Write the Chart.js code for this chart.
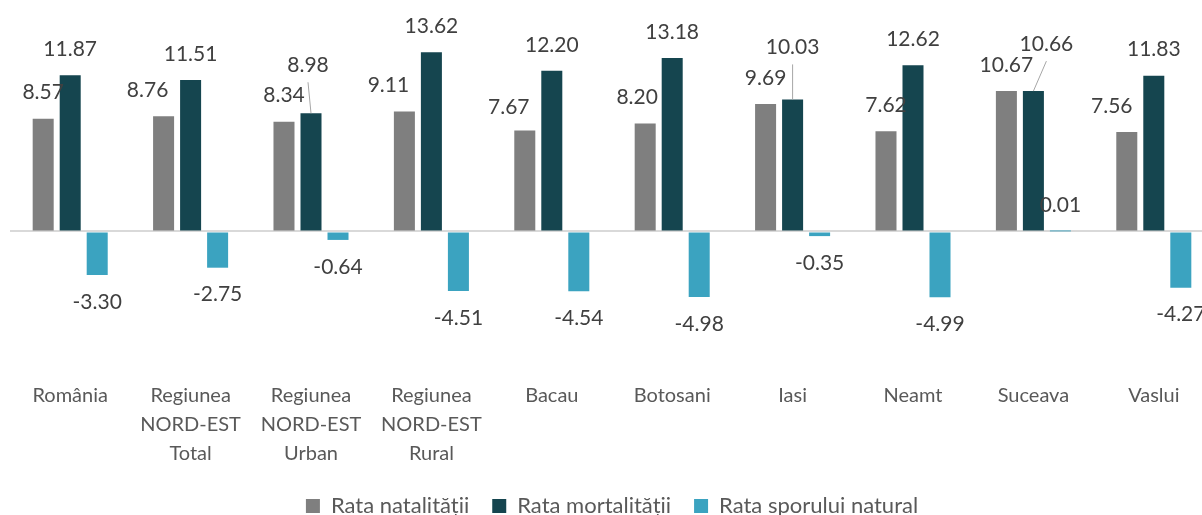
<!DOCTYPE html>
<html lang="ro">
<head>
<meta charset="utf-8">
<title>Rata natalității, mortalității și sporului natural</title>
<script src="https://cdn.jsdelivr.net/npm/chart.js@4.4.1/dist/chart.umd.min.js"></script>
<style>
  html, body {
    margin: 0;
    padding: 0;
    width: 1202px;
    height: 515px;
    overflow: hidden;
    background: #ffffff;
  }
  /* the original chart is cropped on the right and bottom, so the canvas is a bit bigger than the window */
  #chart-wrap {
    position: absolute;
    left: 0;
    top: 0;
    width: 1236px;
    height: 527px;
  }
</style>
</head>
<body>
<div id="chart-wrap"><canvas id="rates-chart"></canvas></div>

<script>
// ── Data ──────────────────────────────────────────────
const categories = [
  ['România'],
  ['Regiunea', 'NORD-EST', 'Total'],
  ['Regiunea', 'NORD-EST', 'Urban'],
  ['Regiunea', 'NORD-EST', 'Rural'],
  ['Bacau'],
  ['Botosani'],
  ['Iasi'],
  ['Neamt'],
  ['Suceava'],
  ['Vaslui'],
];

const seriesNames = ['Rata natalității', 'Rata mortalității', 'Rata sporului natural'];

const rataNatalitatii  = [8.57, 8.76, 8.34, 9.11, 7.67, 8.20, 9.69, 7.62, 10.67, 7.56];
const rataMortalitatii = [11.87, 11.51, 8.98, 13.62, 12.20, 13.18, 10.03, 12.62, 10.66, 11.83];
const rataSporNatural  = [-3.30, -2.75, -0.64, -4.51, -4.54, -4.98, -0.35, -4.99, 0.01, -4.27];

// ── Styling ───────────────────────────────────────────
const COLORS = ['#7f7f7f', '#15454f', '#3ba3c0'];
const FONT = 'Lato, "Open Sans", sans-serif';
const TEXT_DARK = '#404040';
const TEXT_MID = '#595959';

// Manually moved data labels (as in the source workbook): "dataset-index": [dx, dy, leaderLine]
const labelNudges = {
  '0-1': [-16, 0, false],
  '0-3': [-16, 0, false],
  '0-4': [-16, 3, false],
  '0-5': [-8, 0, false],
  '0-9': [-15, 0, false],
  '1-2': [-3, -22, true],
  '1-6': [0, -26, true],
  '1-8': [13, -21, true],
};

/**
 * Draws the value labels above positive bars and below negative bars.
 */
const valueLabels = {
  id: 'valueLabels',
  afterDraw(chart) {
    const ctx = chart.ctx;
    ctx.save();
    ctx.font = `21px ${FONT}`;
    ctx.textAlign = 'center';
    ctx.textBaseline = 'middle';

    chart.data.datasets.forEach((ds, di) => {
      const meta = chart.getDatasetMeta(di);
      meta.data.forEach((bar, i) => {
        const value = ds.data[i];
        let x = bar.x;
        let y = value >= 0 ? bar.y - 26 : bar.y + 27;
        const nudge = labelNudges[`${di}-${i}`];
        if (nudge) {
          x += nudge[0];
          y += nudge[1];
          if (nudge[2]) {
            // leader line from the label down to the top of the bar
            ctx.strokeStyle = '#a6a6a6';
            ctx.lineWidth = 1;
            ctx.beginPath();
            ctx.moveTo(x, y + 17);
            ctx.lineTo(bar.x, bar.y);
            ctx.stroke();
          }
        }
        ctx.fillStyle = TEXT_DARK;
        ctx.fillText(value.toFixed(2), x, y);
      });
    });
    ctx.restore();
  },
};

const seriesValues = [rataNatalitatii, rataMortalitatii, rataSporNatural];

new Chart(document.getElementById('rates-chart'), {
  type: 'bar',
  data: {
    labels: categories,
    datasets: seriesNames.map((name, i) => ({
      label: name,
      data: seriesValues[i],
      backgroundColor: COLORS[i],
      borderWidth: 0,
      categoryPercentage: 0.673,
      barPercentage: 0.778,
    })),
  },
  options: {
    responsive: true,
    maintainAspectRatio: false,
    animation: false,
    devicePixelRatio: 1,
    layout: {
      padding: { left: 10, right: 22, top: 10, bottom: 0 },
    },
    scales: {
      x: {
        grid: { display: false, drawTicks: false },
        border: { display: false },
        ticks: {
          padding: 4,
          color: TEXT_MID,
          font: { family: FONT, size: 20, lineHeight: 1.45 },
          maxRotation: 0,
          autoSkip: false,
        },
      },
      y: {
        min: -11.05,
        max: 16.82,
        z: 1, // zero line on top of the bars, like the Excel axis
        grid: {
          drawTicks: false,
          color: (c) => (c.tick && c.tick.value === 0 ? '#d9d9d9' : 'rgba(0,0,0,0)'),
          lineWidth: (c) => (c.tick && c.tick.value === 0 ? 2 : 0),
        },
        border: { display: false },
        ticks: { display: false, stepSize: 1 },
      },
    },
    plugins: {
      legend: {
        position: 'bottom',
        labels: {
          boxWidth: 14,
          boxHeight: 14,
          padding: 23,
          color: TEXT_MID,
          font: { family: FONT, size: 22 },
        },
      },
      tooltip: { enabled: false },
    },
  },
  plugins: [valueLabels],
});
</script>
</body>
</html>
